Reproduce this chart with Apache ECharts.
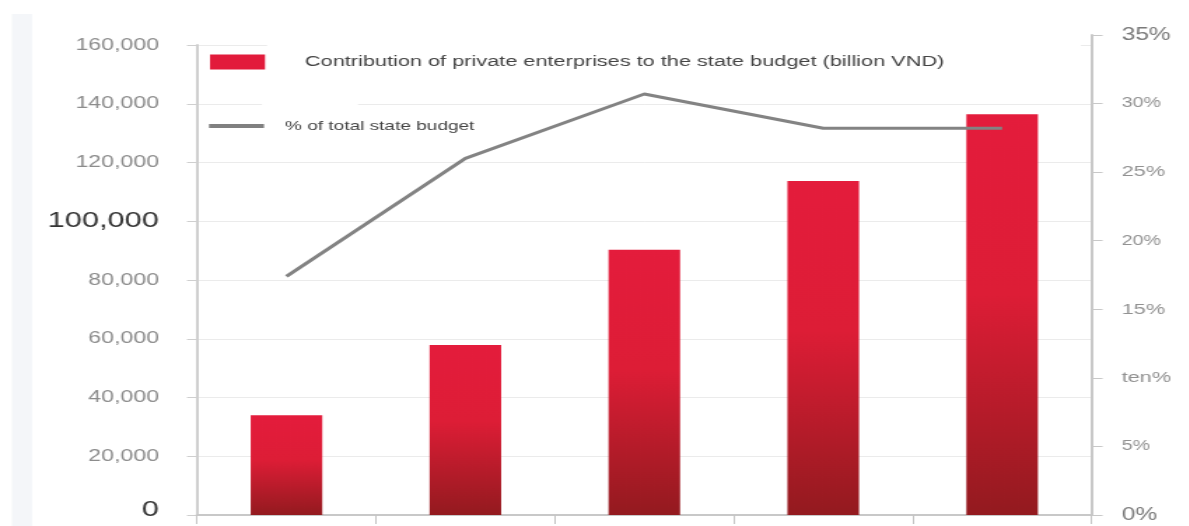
<!DOCTYPE html>
<html>
<head>
<meta charset="utf-8">
<script src="https://cdn.jsdelivr.net/npm/echarts@6/dist/echarts.min.js"></script>
<style>
html,body{margin:0;padding:0;background:#fff;overflow:hidden;}
#wrap{width:1189px;height:526px;overflow:hidden;}
#chart{height:526px;transform-origin:0 0;}
</style>
</head>
<body>
<div id="wrap"><div id="chart"></div></div>
<script>
var categories = ['Year 1', 'Year 2', 'Year 3', 'Year 4', 'Year 5'];
var contribution = [34000, 57900, 90300, 113700, 136400];
var shareOfBudget = [17.4, 26.0, 30.7, 28.2, 28.2];
var leftTickLabels = ['0', '20,000', '40,000', '60,000', '80,000', '100,000', '120,000', '140,000', '160,000'];
var rightTickLabels = ['0%', '5%', 'ten%', '15%', '20%', '25%', '30%', '35%'];
var barName = 'Contribution of private enterprises to the state budget (billion VND)';
var lineName = '% of total state budget';

// the reference picture is stretched horizontally; draw narrower and stretch
var S = 1.4;
var el = document.getElementById('chart');
el.style.width = (1189 / S) + 'px';
el.style.transform = 'scaleX(' + S + ')';
function X(px) { return px / S; }

var FONT = 'Liberation Sans, Arial, sans-serif';
var chart = echarts.init(el);
chart.setOption({
  backgroundColor: '#ffffff',
  animation: false,
  graphic: [{
    type: 'rect', left: X(12), top: 14, shape: {width: X(20), height: 512},
    style: {fill: '#f4f6f9'}, silent: true, z: -10
  }, {
    type: 'rect', left: X(267), top: 43, shape: {width: X(1081 - 267), height: 4},
    style: {fill: '#ffffff'}, silent: true, z: 1
  }, {
    type: 'rect', left: X(262), top: 102, shape: {width: X(358 - 262), height: 4},
    style: {fill: '#ffffff'}, silent: true, z: 1
  }],
  legend: [{
    data: [{name: barName, icon: 'rect', itemStyle: {color: '#e21b3b'}}],
    left: X(210), top: 54, itemWidth: X(55), itemHeight: 15, padding: 0,
    textStyle: {fontSize: 15.5, color: '#444', fontFamily: FONT, padding: [0, 0, 0, X(305) - X(265) - 5]}
  }, {
    data: [{name: lineName, icon: 'rect', itemStyle: {color: '#808080'}}],
    left: X(209), top: 119, itemWidth: X(55), itemHeight: 4, padding: 0,
    textStyle: {fontSize: 13.6, color: '#444', fontFamily: FONT, padding: [0, 0, 0, X(285) - X(264) - 5]}
  }],
  grid: [
    {left: X(197), right: X(1189 - 1092), top: 45, bottom: 11, containLabel: false},
    {left: X(197), right: X(1189 - 1092), top: 35, bottom: 11, containLabel: false}
  ],
  xAxis: [{
    type: 'category', data: categories, boundaryGap: true, gridIndex: 0,
    axisLine: {lineStyle: {color: '#c8c8c8', width: 2}},
    axisTick: {show: true, length: 9, lineStyle: {color: '#c4c4c4', width: 1}},
    axisLabel: {show: false}
  }, {
    type: 'category', data: categories, boundaryGap: true, gridIndex: 1,
    axisLine: {show: false}, axisTick: {show: false}, axisLabel: {show: false}
  }],
  yAxis: [{
    type: 'value', min: 0, max: 160000, interval: 20000, gridIndex: 0,
    axisLine: {show: true, lineStyle: {color: '#cfcfcf', width: 2}},
    axisTick: {show: true, length: X(10), lineStyle: {color: '#cfcfcf'}},
    splitLine: {show: true, lineStyle: {color: '#ebebeb'}},
    axisLabel: {
      margin: X(38), fontSize: 16.5, fontFamily: FONT, color: '#8c8c8c',
      formatter: function (v) {
        var s = leftTickLabels[Math.round(v / 20000)];
        if (v === 100000) return '{b|' + s + '}';
        if (v === 0) return '{z|' + s + '}';
        return s;
      },
      rich: {
        b: {fontSize: 22, color: '#333', fontFamily: FONT},
        z: {fontSize: 22, color: '#333', fontFamily: FONT, padding: [0, 0, 10, 0]}
      }
    }
  }, {
    type: 'value', min: 0, max: 35, interval: 5, position: 'right', gridIndex: 1,
    axisLine: {show: true, lineStyle: {color: '#c8c8c8', width: 2}},
    axisTick: {show: true, length: X(11), lineStyle: {color: '#c8c8c8'}},
    splitLine: {show: false},
    axisLabel: {
      margin: X(30), fontSize: 14, fontFamily: FONT, color: '#8c8c8c',
      formatter: function (v) {
        var i = Math.round(v / 5), s = rightTickLabels[i];
        if (i === 0 || i === 7) return '{g|' + s + '}';
        if (i === 2 || i === 3 || i === 5) return '{m|' + s + '}';
        return '{s|' + s + '}';
      },
      rich: {
        g: {fontSize: 17.5, color: '#7a7a7a', fontFamily: FONT},
        m: {fontSize: 15.5, color: '#929292', fontFamily: FONT},
        s: {fontSize: 14, color: '#929292', fontFamily: FONT}
      }
    }
  }],
  series: [{
    name: barName, type: 'bar', data: contribution, barWidth: '40%',
    xAxisIndex: 0, yAxisIndex: 0, z: 2,
    itemStyle: {
      color: new echarts.graphic.LinearGradient(0, 0, 0, 1, [
        {offset: 0, color: '#e41c3c'},
        {offset: 0.45, color: '#dd1d36'},
        {offset: 1, color: '#931a1f'}
      ])
    }
  }, {
    name: lineName, type: 'line', data: shareOfBudget, xAxisIndex: 1, yAxisIndex: 1,
    symbol: 'none', z: 3, lineStyle: {color: '#838383', width: 3}, itemStyle: {color: '#838383'}
  }]
});
</script>
</body>
</html>
